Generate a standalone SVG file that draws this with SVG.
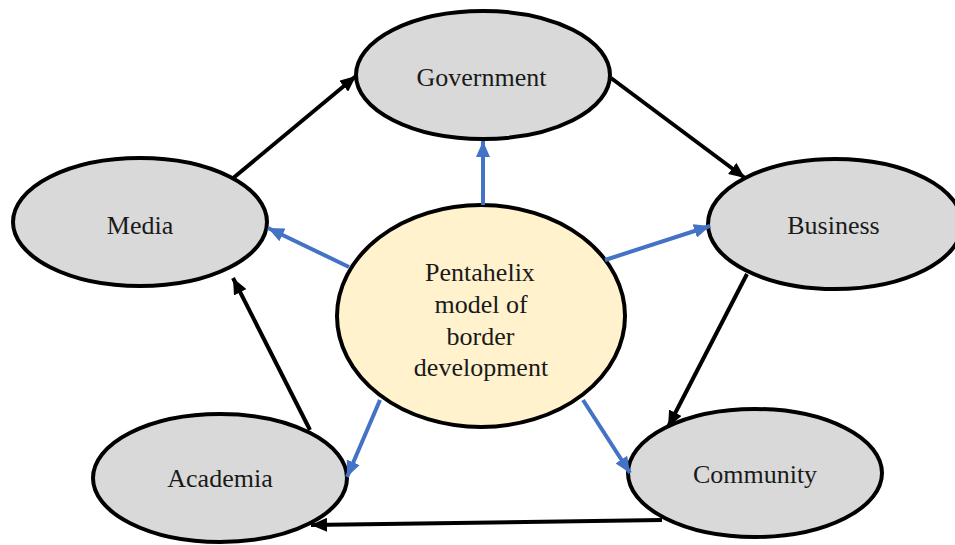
<svg xmlns="http://www.w3.org/2000/svg" width="955" height="545" viewBox="0 0 955 545">
<style>
.n{fill:#d9d9d9;stroke:#000;stroke-width:4}
.c{fill:#fff2cc;stroke:#000;stroke-width:4}
.t{font-family:"Liberation Serif","Times New Roman",serif;font-size:26px;fill:#1a1a1a;text-anchor:middle}
.k{stroke:#000;stroke-width:4;fill:none;marker-end:url(#ak)}
.b{stroke:#4472c4;stroke-width:4;fill:none;marker-end:url(#ab)}
</style>
<defs>
<marker id="ak" markerUnits="userSpaceOnUse" markerWidth="18" markerHeight="14" refX="16" refY="7" orient="auto"><path d="M0,0 L16,7 L0,14 Z" fill="#000"/></marker>
<marker id="ab" markerUnits="userSpaceOnUse" markerWidth="18" markerHeight="14" refX="16" refY="7" orient="auto"><path d="M0,0 L16,7 L0,14 Z" fill="#4472c4"/></marker>
</defs>
<rect width="955" height="545" fill="#fff"/>
<g id="government"><ellipse class="n" cx="483" cy="75" rx="127" ry="64"/><text class="t" x="481.5" y="86">Government</text></g>
<g id="media"><ellipse class="n" cx="140" cy="222" rx="127" ry="64"/><text class="t" x="140" y="234">Media</text></g>
<g id="business"><ellipse class="n" cx="835" cy="224" rx="127" ry="65"/><text class="t" x="833.5" y="234">Business</text></g>
<g id="academia"><ellipse class="n" cx="220" cy="478" rx="127" ry="64"/><text class="t" x="220" y="487">Academia</text></g>
<g id="community"><ellipse class="n" cx="755" cy="473" rx="127" ry="64"/><text class="t" x="755" y="483">Community</text></g>
<g id="center"><ellipse class="c" cx="481" cy="316" rx="144" ry="111"/>
<text class="t" x="480" y="281">Pentahelix</text>
<text class="t" x="481" y="313">model of</text>
<text class="t" x="480.5" y="345">border</text>
<text class="t" x="481" y="376">development</text></g>
<g id="connectors">
<line class="k" x1="232" y1="179" x2="356" y2="76"/>
<line class="k" x1="611" y1="78" x2="745" y2="178"/>
<line class="k" x1="747" y1="274" x2="668" y2="427"/>
<line class="k" x1="662" y1="520" x2="311" y2="525"/>
<line class="k" x1="310" y1="430" x2="233" y2="278"/>
<line class="b" x1="483" y1="205" x2="483" y2="141"/>
<line class="b" x1="349" y1="267" x2="268" y2="228"/>
<line class="b" x1="605" y1="260" x2="710" y2="226"/>
<line class="b" x1="380" y1="400" x2="347" y2="477"/>
<line class="b" x1="583" y1="400" x2="630" y2="473"/>
</g>
</svg>
